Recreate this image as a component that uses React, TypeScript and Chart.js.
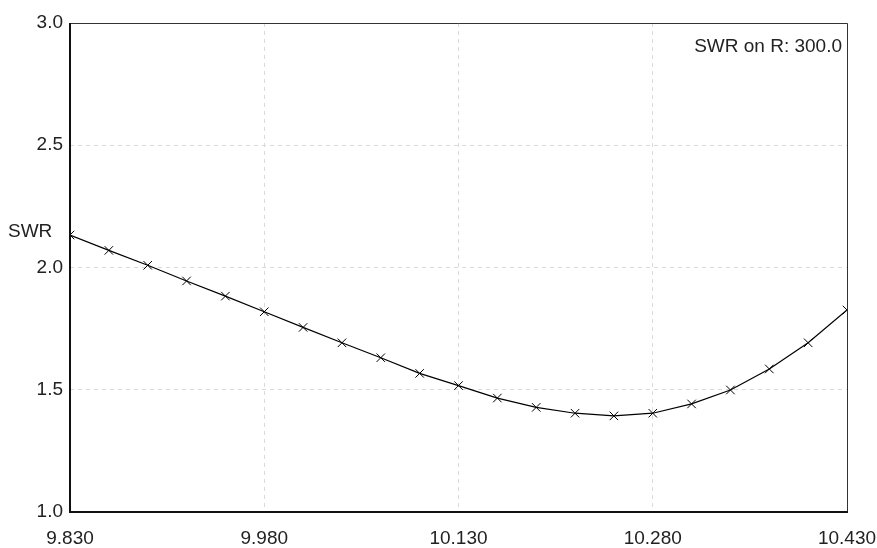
import React, { useEffect, useRef } from "react";
import { Chart, registerables } from "chart.js";

Chart.register(...registerables);

const frequencies = [
  9.83, 9.86, 9.89, 9.92, 9.95, 9.98, 10.01, 10.04, 10.07, 10.1, 10.13,
  10.16, 10.19, 10.22, 10.25, 10.28, 10.31, 10.34, 10.37, 10.4, 10.43,
];
const swrValues = [
  2.133, 2.07, 2.009, 1.945, 1.883, 1.819, 1.755, 1.692, 1.631, 1.567, 1.517,
  1.466, 1.428, 1.404, 1.393, 1.404, 1.442, 1.499, 1.585, 1.692, 1.826,
];
const xTicks = [9.83, 9.98, 10.13, 10.28, 10.43];
const yTicks = [1.0, 1.5, 2.0, 2.5, 3.0];
const yAxisLabel = "SWR";
const annotationText = "SWR on R: 300.0";

const FONT = "'Liberation Sans', Arial, sans-serif";

const framePlugin = {
  id: "frameAndText",
  afterDraw(chart: any) {
    const { ctx, chartArea } = chart;
    const { left, top, right, bottom } = chartArea;
    ctx.save();
    ctx.strokeStyle = "#333";
    ctx.lineWidth = 1;
    ctx.beginPath();
    ctx.moveTo(left, top + 0.5);
    ctx.lineTo(right + 0.5, top + 0.5);
    ctx.lineTo(right + 0.5, bottom);
    ctx.stroke();
    ctx.strokeStyle = "#111";
    ctx.lineWidth = 2;
    ctx.beginPath();
    ctx.moveTo(left, top);
    ctx.lineTo(left, bottom);
    ctx.lineTo(right + 1, bottom);
    ctx.stroke();

    ctx.fillStyle = "#222";
    ctx.font = `19px ${FONT}`;
    ctx.textBaseline = "middle";
    ctx.textAlign = "right";
    ctx.fillText(annotationText, right - 5, top + 24);
    ctx.textAlign = "left";
    const yScale = chart.scales.y;
    ctx.fillText(yAxisLabel, 8, yScale.getPixelForValue(2.145));
    ctx.restore();
  },
};

export default function App() {
  const ref = useRef<HTMLCanvasElement | null>(null);
  useEffect(() => {
    if (!ref.current) return;
    const chart = new Chart(ref.current, {
      type: "line",
      data: {
        datasets: [
          {
            data: frequencies.map((f, i) => ({ x: f, y: swrValues[i] })),
            borderColor: "#000",
            borderWidth: 1.2,
            tension: 0,
            pointStyle: "crossRot",
            pointRadius: 6,
            pointBorderColor: "#000",
            pointBorderWidth: 1,
            pointBackgroundColor: "#000",
            fill: false,
          },
        ],
      },
      options: {
        responsive: false,
        animation: false,
        events: [],
        layout: { padding: { top: 23, right: 30, left: 0, bottom: 0 } },
        plugins: {
          legend: { display: false },
          tooltip: { enabled: false },
        },
        scales: {
          x: {
            type: "linear",
            min: 9.83,
            max: 10.43,
            afterBuildTicks: (scale: any) => {
              scale.ticks = xTicks.map((v) => ({ value: v }));
            },
            afterFit: (scale: any) => {
              scale.height = 36;
              scale.paddingLeft = 0;
              scale.paddingRight = 0;
            },
            grid: {
              color: "#d9d9d9",
              lineWidth: 1,
              drawTicks: false,
            },
            border: { display: false, dash: [4, 4] },
            ticks: {
              color: "#222",
              padding: 15,
              maxRotation: 0,
              autoSkip: false,
              font: { family: FONT, size: 19 },
              callback: (v: any) => Number(v).toFixed(3),
            },
          },
          y: {
            type: "linear",
            min: 1,
            max: 3,
            afterBuildTicks: (scale: any) => {
              scale.ticks = yTicks.map((v) => ({ value: v }));
            },
            afterFit: (scale: any) => {
              scale.width = 70;
              scale.paddingTop = 0;
              scale.paddingBottom = 0;
            },
            grid: {
              color: "#d9d9d9",
              lineWidth: 1,
              drawTicks: false,
            },
            border: { display: false, dash: [4, 4] },
            ticks: {
              color: "#222",
              padding: 7,
              autoSkip: false,
              font: { family: FONT, size: 19 },
              callback: (v: any) => Number(v).toFixed(1),
            },
          },
        },
      },
      plugins: [framePlugin],
    });
    return () => chart.destroy();
  }, []);
  return (
    <div style={{ position: "fixed", left: 0, top: 0, width: 877, height: 548, background: "#fff" }}>
      <canvas ref={ref} width={877} height={548} style={{ display: "block" }} />
    </div>
  );
}
